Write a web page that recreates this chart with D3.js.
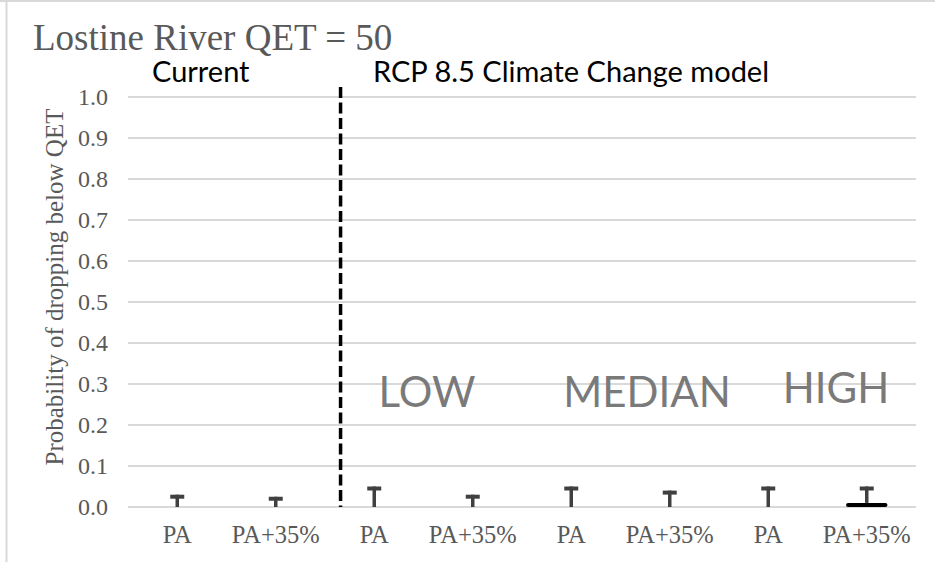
<!DOCTYPE html>
<html>
<head>
<meta charset="utf-8">
<script src="https://cdn.jsdelivr.net/npm/d3@7"></script>
<style>
body{margin:0;background:#fff}
svg{display:block}
</style>
</head>
<body>
<div id="chart"></div>
<script>
// values
const categories=["PA","PA+35%","PA","PA+35%","PA","PA+35%","PA","PA+35%"]
const values=[0,0,0,0,0,0,0,0.01]
const errTop=[0.03,0.025,0.05,0.03,0.05,0.04,0.05,0.05]
const yTicks=[0,0.1,0.2,0.3,0.4,0.5,0.6,0.7,0.8,0.9,1.0]
const scenarios=["LOW","MEDIAN","HIGH"]

const width=935
const height=562
const margin={top:97,right:19,bottom:55,left:128}

const svg=d3.select("#chart")
.append("svg")
.attr("width",width)
.attr("height",height)

// outer frame (left + top)
svg.append("line").attr("x1",6.5).attr("x2",6.5).attr("y1",0).attr("y2",height)
.attr("stroke","#d9d9d9").attr("stroke-width",2)
svg.append("line").attr("x1",0).attr("x2",width).attr("y1",1).attr("y2",1)
.attr("stroke","#d9d9d9").attr("stroke-width",2)

const x=d3.scaleBand()
.domain(d3.range(categories.length))
.range([margin.left,width-margin.right])
.paddingInner(0.58)
.paddingOuter(0.29)

const y=d3.scaleLinear()
.domain([0,1])
.range([height-margin.bottom,margin.top])

// gridlines
svg.append("g")
.selectAll("line")
.data(yTicks)
.enter()
.append("line")
.attr("x1",margin.left)
.attr("x2",width-margin.right)
.attr("y1",d=>y(d))
.attr("y2",d=>y(d))
.attr("stroke","#d9d9d9")
.attr("stroke-width",2)

// y tick labels
svg.append("g")
.selectAll("text")
.data(yTicks)
.enter()
.append("text")
.attr("x",108)
.attr("y",d=>y(d))
.attr("dy","0.35em")
.attr("text-anchor","end")
.attr("font-family","Liberation Serif")
.attr("font-size",24)
.attr("fill","#595959")
.text(d=>d.toFixed(1))

// x tick labels
svg.append("g")
.selectAll("text")
.data(categories)
.enter()
.append("text")
.attr("x",(d,i)=>x(i)+x.bandwidth()/2)
.attr("y",543)
.attr("text-anchor","middle")
.attr("font-family","Liberation Serif")
.attr("font-size",24.5)
.attr("fill","#595959")
.text(d=>d)

// error bars
const eb=svg.append("g")
eb.selectAll("line.stem")
.data(errTop)
.enter()
.append("line")
.attr("class","stem")
.attr("x1",(d,i)=>x(i)+x.bandwidth()/2)
.attr("x2",(d,i)=>x(i)+x.bandwidth()/2)
.attr("y1",(d,i)=>y(values[i]))
.attr("y2",d=>y(d))
.attr("stroke","#404040")
.attr("stroke-width",3.5)
eb.selectAll("line.cap")
.data(errTop)
.enter()
.append("line")
.attr("class","cap")
.attr("x1",(d,i)=>x(i)+x.bandwidth()/2-7)
.attr("x2",(d,i)=>x(i)+x.bandwidth()/2+7)
.attr("y1",d=>y(d)+2)
.attr("y2",d=>y(d)+2)
.attr("stroke","#404040")
.attr("stroke-width",4)

// bars
svg.append("g")
.selectAll("rect")
.data(values)
.enter()
.append("rect")
.attr("x",(d,i)=>x(i))
.attr("width",x.bandwidth())
.attr("y",d=>y(d))
.attr("height",d=>y(0)-y(d))
.attr("rx",2)
.attr("fill","#000")

// dashed divider between current and climate model
svg.append("line")
.attr("x1",x(2)-13)
.attr("x2",x(2)-13)
.attr("y1",87)
.attr("y2",y(0))
.attr("stroke","#000")
.attr("stroke-width",3.5)
.attr("stroke-dasharray","11,4.5")

// title
svg.append("text")
.attr("x",33)
.attr("y",50)
.attr("font-family","Liberation Serif")
.attr("font-size",37)
.attr("fill","#595959")
.text("Lostine River QET = 50")

// axis title
svg.append("text")
.attr("transform","translate(63,287) rotate(-90)")
.attr("text-anchor","middle")
.attr("font-family","Liberation Serif")
.attr("font-size",25)
.attr("fill","#595959")
.text("Probability of dropping below QET")

// section headers
svg.append("text")
.attr("x",152).attr("y",82)
.attr("font-family","Lato")
.attr("font-size",29)
.attr("fill","#000")
.text("Current")
svg.append("text")
.attr("x",373).attr("y",82)
.attr("font-family","Lato")
.attr("font-size",29)
.attr("fill","#000")
.text("RCP 8.5 Climate Change model")

// scenario labels
const scenX=[427,647,836]
const scenY=[407,407,403]
svg.append("g")
.selectAll("text")
.data(scenarios)
.enter()
.append("text")
.attr("x",(d,i)=>scenX[i])
.attr("y",(d,i)=>scenY[i])
.attr("text-anchor","middle")
.attr("font-family","Lato")
.attr("font-size",42)
.attr("fill","#7a7a7a")
.text(d=>d)
</script>
</body>
</html>
